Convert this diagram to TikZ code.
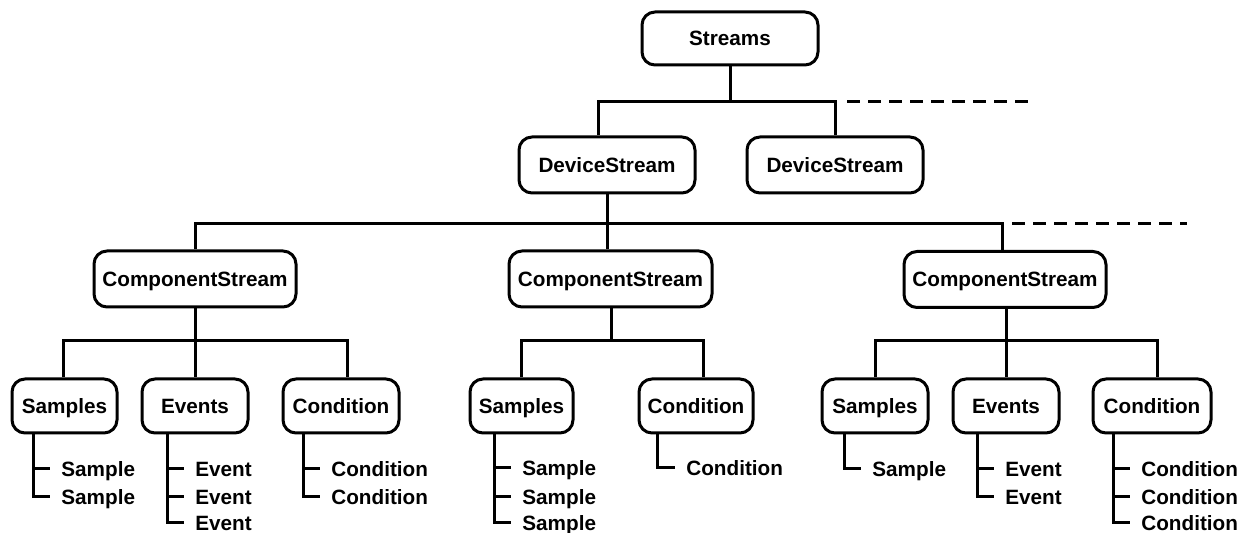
\documentclass[tikz,border=0pt]{standalone}
\usepackage{fontspec}
\setmainfont{Liberation Sans}
\begin{document}
\begin{tikzpicture}[x=0.5pt,y=-0.5pt,
  txt/.style={font=\bfseries\fontsize{10.35pt}{12pt}\selectfont, text height=7.4pt, text depth=0pt},
  box/.style={txt, draw, line width=1.5pt, rounded corners=6.5pt, inner sep=0pt, minimum height=27pt},
  item/.style={txt, anchor=west, inner xsep=5.5pt, inner ysep=0pt},
  conn/.style={line width=1.5pt},
  dashline/.style={line width=1.5pt, dash pattern=on 6.5pt off 4pt}]
\useasboundingbox (0,0) rectangle (1250,533);

% top levels
\node[box, minimum width=88pt, minimum height=26.5pt] (streams) at (730,38.5) {Streams};
\node[box, minimum width=88pt, minimum height=28pt] (ds1) at (607,165) {DeviceStream};
\node[box, minimum width=88pt, minimum height=28pt] (ds2) at (835,165) {DeviceStream};
\node[box, minimum width=101pt, minimum height=28pt] (cs1) at (195,279) {ComponentStream};
\node[box, minimum width=101.5pt, minimum height=28pt] (cs2) at (610.5,279) {ComponentStream};
\node[box, minimum width=101pt, minimum height=28pt] (cs3) at (1005,279.5) {ComponentStream};

% leaf boxes
\node[box, minimum width=52.5pt] (sa1) at (64.5,406) {Samples};
\node[box, minimum width=53pt] (ev1) at (195,406) {Events};
\node[box, minimum width=58pt] (co1) at (341,406) {Condition};
\node[box, minimum width=51.5pt] (sa2) at (521.5,406) {Samples};
\node[box, minimum width=57pt] (co2) at (696,406) {Condition};
\node[box, minimum width=53pt] (sa3) at (875,406) {Samples};
\node[box, minimum width=53pt] (ev3) at (1006,406) {Events};
\node[box, minimum width=59pt] (co3) at (1152,406) {Condition};

% junctions
\coordinate (j0) at (730,102);
\coordinate (j1) at (607,224);
\coordinate (j2) at (195,341);
\coordinate (j3) at (611,341);
\coordinate (j4) at (1006,341);
\coordinate (d0s) at (847,102);
\coordinate (d0e) at (1032,102);
\coordinate (d1s) at (1012,224);
\coordinate (d1e) at (1187,224);

% connectors level 1
\draw[conn] (streams.south) -- (j0);
\draw[conn] ([xshift=-4.5pt]ds1.north) |- (j0) -| (ds2.north);
\draw[dashline] (d0s) -- (d0e);

% level 2
\draw[conn] (ds1.south) -- (j1);
\draw[conn] (cs1.north) |- (j1) -| ([xshift=-1.5pt]cs3.north);
\draw[conn] (j1) -- (j1 |- cs2.north);
\draw[dashline] (d1s) -- (d1e);

% level 3
\draw[conn] (cs1.south) -- (j2);
\draw[conn] ([xshift=-0.75pt]sa1.north) |- (j2) -| ([xshift=3pt]co1.north);
\draw[conn] (j2) -- (ev1.north);
\draw[conn] (cs2.south -| j3) -- (j3);
\draw[conn] (sa2.north) |- (j3) -| ([xshift=3.5pt]co2.north);
\draw[conn] (cs3.south -| j4) -- (j4);
\draw[conn] (sa3.north) |- (j4) -| ([xshift=2.5pt]co3.north);
\draw[conn] (j4) -- (ev3.north);

% leaf items
\node[item] (sa1a) at (50,469) {Sample};
\node[item] (sa1b) at (50,497) {Sample};
\draw[conn] (sa1.south -| 33,0) |- (sa1b.west);
\draw[conn] (sa1a.west -| 33,0) -- (sa1a.west);

\node[item] (ev1a) at (184,469) {Event};
\node[item] (ev1b) at (184,497) {Event};
\node[item] (ev1c) at (184,523) {Event};
\draw[conn] (ev1.south -| 167,0) |- (ev1c.west);
\draw[conn] (ev1a.west -| 167,0) -- (ev1a.west);
\draw[conn] (ev1b.west -| 167,0) -- (ev1b.west);

\node[item] (co1a) at (320,469) {Condition};
\node[item] (co1b) at (320,497) {Condition};
\draw[conn] (co1.south -| 303,0) |- (co1b.west);
\draw[conn] (co1a.west -| 303,0) -- (co1a.west);

\node[item] (sa2a) at (511,468) {Sample};
\node[item] (sa2b) at (511,497) {Sample};
\node[item] (sa2c) at (511,523) {Sample};
\draw[conn] (sa2.south -| 494,0) |- (sa2c.west);
\draw[conn] (sa2a.west -| 494,0) -- (sa2a.west);
\draw[conn] (sa2b.west -| 494,0) -- (sa2b.west);

\node[item] (co2a) at (675,468) {Condition};
\draw[conn] (co2.south -| 657,0) |- (co2a.west);

\node[item] (sa3a) at (861,469) {Sample};
\draw[conn] (sa3.south -| 844,0) |- (sa3a.west);

\node[item] (ev3a) at (994,469) {Event};
\node[item] (ev3b) at (994,497) {Event};
\draw[conn] (ev3.south -| 977,0) |- (ev3b.west);
\draw[conn] (ev3a.west -| 977,0) -- (ev3a.west);

\node[item] (co3a) at (1130,469) {Condition};
\node[item] (co3b) at (1130,497) {Condition};
\node[item] (co3c) at (1130,523) {Condition};
\draw[conn] (co3.south -| 1113,0) |- (co3c.west);
\draw[conn] (co3a.west -| 1113,0) -- (co3a.west);
\draw[conn] (co3b.west -| 1113,0) -- (co3b.west);
\end{tikzpicture}
\end{document}
